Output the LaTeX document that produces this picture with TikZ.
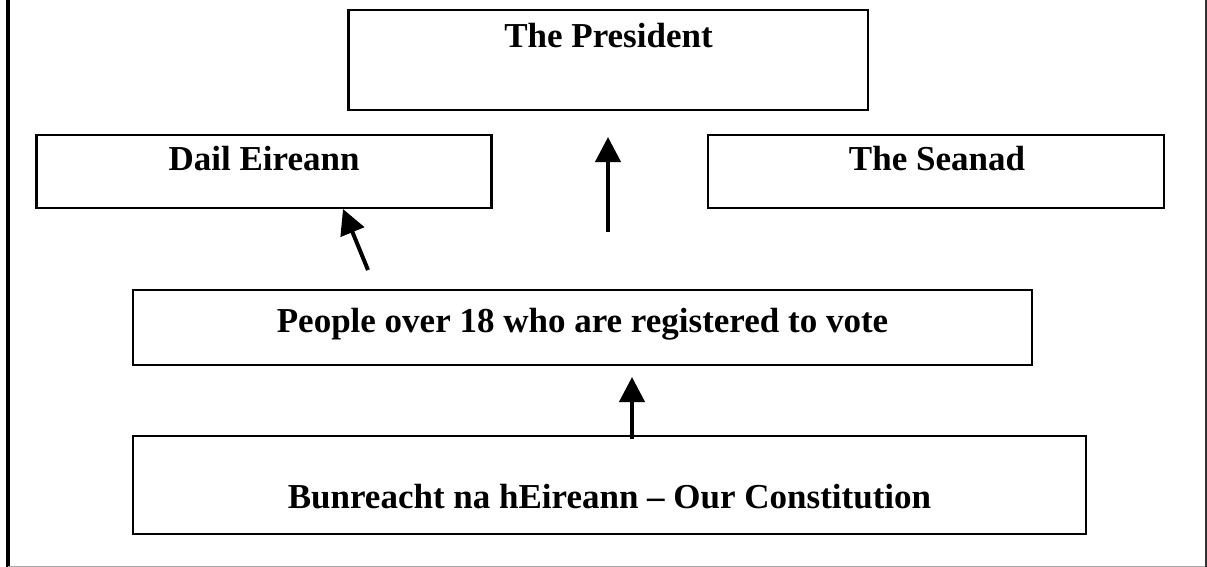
\documentclass[tikz,border=0pt]{standalone}
\usepackage{fontspec}
\setmainfont{Liberation Serif}
\usetikzlibrary{arrows.meta}
\begin{document}
\begin{tikzpicture}[x=1pt,y=-1pt,
  box/.style={draw=black,line width=2.6pt,rectangle,inner sep=0pt},
  lbl/.style={anchor=base,inner sep=0pt,font=\fontsize{35}{40}\selectfont\bfseries},
  arr/.style={line width=4pt,-{Triangle[length=25pt,width=25pt]}}]
\useasboundingbox (0,0) rectangle (1207,567);
\fill[white] (0,0) rectangle (1207,567);
% frame
\draw[line width=4pt,black] (8,0) -- (8,567);
\draw[line width=1pt,black!35] (8,566) -- (1207,566);
\draw[line width=1.5pt,black!80] (1206,0) -- (1206,567);
% boxes
\node[box,minimum width=519.4pt,minimum height=100pt] (pres) at (608.3,60) {};
\node[box,minimum width=455pt,minimum height=73pt] (dail) at (264.2,171.5) {};
\node[box,minimum width=456pt,minimum height=73pt] (sean) at (936,171.5) {};
\node[box,minimum width=899pt,minimum height=75pt] (people) at (582.5,327.5) {};
\node[box,minimum width=953pt,minimum height=98pt] (bun) at (609.5,485) {};
% texts
\node[lbl] (prest) at (608.5,47.6) {The President};
\node[lbl] (dailt) at (264,170.7) {Dail Eireann};
\node[lbl] (seant) at (937,170.7) {The Seanad};
\node[lbl] (peoplet) at (582.5,332) {People over 18 who are registered to vote};
\node[lbl] (bunt) at (609.5,508) {Bunreacht na hEireann – Our Constitution};
% arrow end points
\coordinate (a1s) at (368,270);
\coordinate (a1e) at (343,209);
\coordinate (a2s) at (608,232);
\coordinate (a2e) at (608,137);
\coordinate (a3s) at (632,439);
\coordinate (a3e) at (632,377);
\draw[arr] (a1s) -- (a1e);
\draw[arr] (a2s) -- (a2e);
\draw[arr] (a3s) -- (a3e);
\end{tikzpicture}
\end{document}
